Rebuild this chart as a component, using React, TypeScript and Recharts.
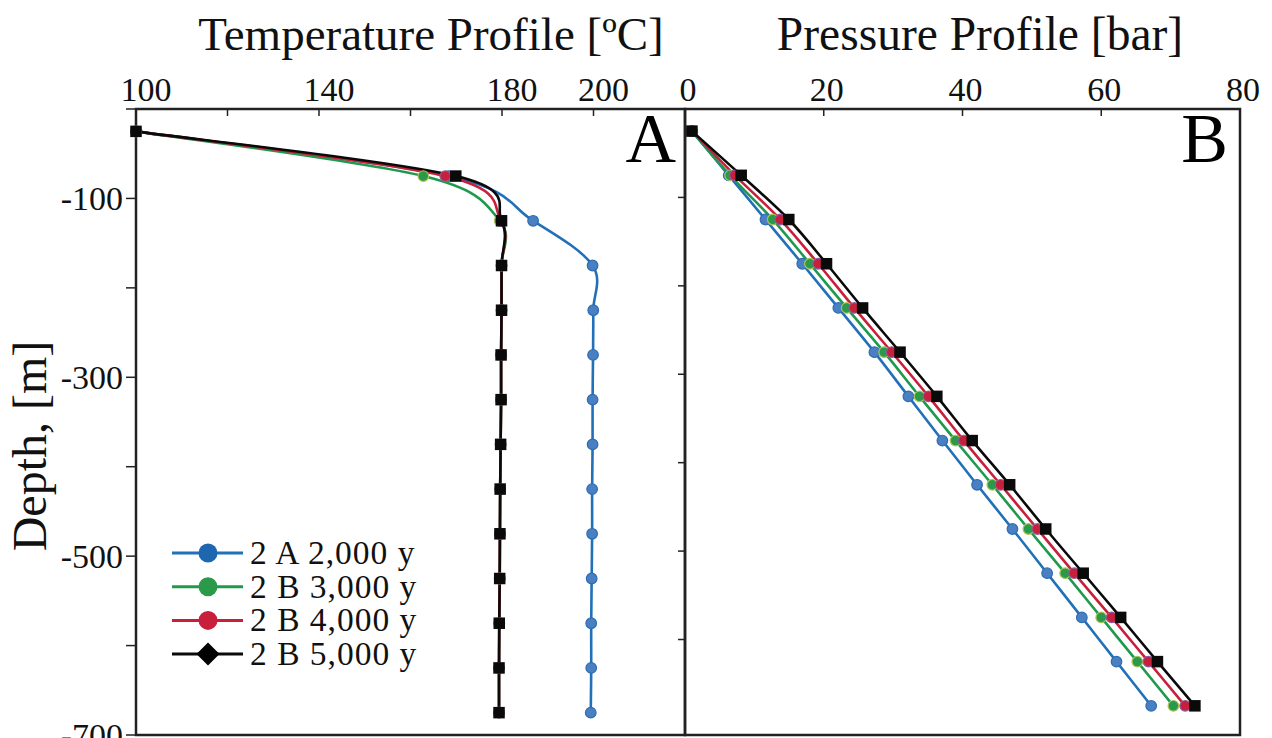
import React from 'react';
import { LineChart, Line, XAxis, YAxis, ReferenceArea, Legend } from 'recharts';

// ---------- data ----------
const depths = [-25, -75, -125, -175, -225, -275, -325, -375, -425, -475, -525, -575, -625, -675];

const temp2A2000 = [100, 168.3, 186.8, 199.8, 199.95, 199.9, 199.8, 199.8, 199.7, 199.7, 199.6, 199.5, 199.5, 199.4];
const temp2B3000 = [100, 162.8, 179.5, 179.9, 179.9, 179.8, 179.8, 179.7, 179.6, 179.55, 179.5, 179.4, 179.35, 179.35];
const temp2B4000 = [100, 167.6, 179.8, 179.9, 179.9, 179.8, 179.8, 179.7, 179.6, 179.55, 179.5, 179.4, 179.35, 179.35];
const temp2B5000 = [100, 169.9, 179.9, 179.9, 179.9, 179.8, 179.8, 179.7, 179.6, 179.55, 179.5, 179.4, 179.35, 179.35];

const pres2A2000 = [1.0, 6.3, 11.6, 16.9, 22.1, 27.3, 32.2, 37.1, 42.1, 47.2, 52.2, 57.2, 62.2, 67.2];
const pres2B3000 = [1.0, 6.5, 12.65, 18.0, 23.3, 28.7, 33.8, 39.0, 44.3, 49.5, 54.8, 60.0, 65.2, 70.4];
const pres2B4000 = [1.0, 7.2, 13.75, 19.2, 24.4, 29.8, 35.1, 40.2, 45.5, 50.8, 56.1, 61.5, 66.8, 72.1];
const pres2B5000 = [1.0, 8.1, 14.96, 20.4, 25.6, 31.0, 36.3, 41.4, 46.8, 52.0, 57.4, 62.8, 68.1, 73.5];

const seriesNames = ['2 A 2,000 y', '2 B 3,000 y', '2 B 4,000 y', '2 B 5,000 y'];

const tempTicks = [100, 120, 140, 160, 180, 200, 220];
const tempTickLabels = [100, 140, 180, 200];
const presTicks = [0, 20, 40, 60, 80];
const depthTicks = [-700, -600, -500, -400, -300, -200, -100, 0];
const depthTickLabels = [-100, -300, -500, -700];
const depthTicksB = [-600, -500, -400, -300, -200, -100];

const titleA = 'Temperature Profile [ºC]';
const titleB = 'Pressure Profile [bar]';
const yTitle = 'Depth, [m]';

// ---------- styles ----------
const FONT = "'Liberation Serif', 'Times New Roman', serif";
const FRAME = '#222';
const STY = [
  { line: '#2270b8', fill: '#4a7fc1', stroke: '#2c6db4', shape: 'circle' },
  { line: '#1f9a4c', fill: '#2a9a4a', stroke: '#a9c35c', shape: 'circle' },
  { line: '#c81f3b', fill: '#c81f3b', stroke: '#8e5a9e', shape: 'circle' },
  { line: '#0a0a0a', fill: '#0a0a0a', stroke: '#0a0a0a', shape: 'square' },
];

const PLOT_TOP = 109;

const toPts = (xs: number[], ys: number[]) => xs.map((x, i) => ({ x, y: ys[i] }));
const tempSeries = [temp2A2000, temp2B3000, temp2B4000, temp2B5000].map((t) => toPts(t, depths));
const presSeries = [pres2A2000, pres2B3000, pres2B4000, pres2B5000].map((p) => toPts(p, depths));

// Catmull-Rom-like smooth curve (Excel-style smoothing)
const smoothCurve = (context: any) => {
  let pts: [number, number][] = [];
  return {
    areaStart() {},
    areaEnd() {},
    lineStart() {
      pts = [];
    },
    lineEnd() {
      if (!pts.length) return;
      context.moveTo(pts[0][0], pts[0][1]);
      const k = 1 / 6;
      for (let i = 0; i < pts.length - 1; i++) {
        const p0 = pts[i - 1] || pts[i];
        const p1 = pts[i];
        const p2 = pts[i + 1];
        const p3 = pts[i + 2] || p2;
        context.bezierCurveTo(
          p1[0] + (p2[0] - p0[0]) * k,
          p1[1] + (p2[1] - p0[1]) * k,
          p2[0] - (p3[0] - p1[0]) * k,
          p2[1] - (p3[1] - p1[1]) * k,
          p2[0],
          p2[1]
        );
      }
    },
    point(x: number, y: number) {
      pts.push([x, y]);
    },
  };
};

const makeDot = (s: (typeof STY)[number]) => (props: any) => {
  const { cx, cy, index } = props;
  if (cx == null || cy == null) return <g key={index} />;
  if (s.shape === 'square') {
    return <rect key={index} x={cx - 5.75} y={cy - 5.75} width={11.5} height={11.5} fill={s.fill} />;
  }
  return <circle key={index} cx={cx} cy={cy} r={5.3} fill={s.fill} stroke={s.stroke} strokeWidth={1.2} />;
};

const makeTopTick = (labels: number[] | null, dx: number) => (props: any) => {
  const { x, payload } = props;
  const show = labels ? labels.includes(payload.value) : true;
  return (
    <g>
      <line x1={x} x2={x} y1={PLOT_TOP} y2={PLOT_TOP + 7} stroke={FRAME} strokeWidth={1.5} />
      {show && (
        <text x={x + dx} y={PLOT_TOP - 8} textAnchor="middle" fontFamily={FONT} fontSize={34} fill="#111">
          {payload.value}
        </text>
      )}
    </g>
  );
};

const LegendContent = () => (
  <svg width={250} height={150} style={{ overflow: 'visible' }}>
    {seriesNames.map((name, i) => {
      const s = STY[i];
      const cy = 18 + i * 33.7;
      return (
        <g key={name}>
          <line x1={2} x2={73} y1={cy} y2={cy} stroke={s.line} strokeWidth={3} />
          {i === 3 ? (
            <polygon points={`38,${cy - 11.5} 49.5,${cy} 38,${cy + 11.5} 26.5,${cy}`} fill="#000" />
          ) : (
            <circle cx={38} cy={cy} r={9.5} fill={i === 0 ? '#1f66b0' : s.fill} />
          )}
          <text x={80} y={cy + 11} fontFamily={FONT} fontSize={33.5} fill="#111" letterSpacing={1}>
            {name}
          </text>
        </g>
      );
    })}
  </svg>
);

const renderLines = (series: { x: number; y: number }[][]) =>
  series.map((data, i) => (
    <Line
      key={seriesNames[i]}
      data={data}
      dataKey="y"
      name={seriesNames[i]}
      type={smoothCurve as any}
      stroke={STY[i].line}
      strokeWidth={2.6}
      dot={makeDot(STY[i])}
      activeDot={false}
      isAnimationActive={false}
    />
  ));

export default function App() {
  return (
    <div style={{ position: 'absolute', left: 0, top: 0, width: 1272, height: 738, background: '#fff', overflow: 'hidden' }}>
      <div style={{ position: 'absolute', left: 0, top: 0 }}>
        <LineChart width={700} height={738} margin={{ top: 69, right: 15, bottom: 3, left: 76 }}>
          <XAxis
            xAxisId={0}
            type="number"
            dataKey="x"
            orientation="top"
            height={40}
            domain={[100, 220]}
            ticks={tempTicks}
            axisLine={false}
            tickLine={false}
            tick={makeTopTick(tempTickLabels, 10)}
            interval={0}
          />
          <YAxis
            yAxisId={0}
            type="number"
            width={60}
            domain={[-700, 0]}
            ticks={depthTicks}
            axisLine={false}
            tickSize={10}
            tickMargin={3}
            interval={0}
            tickLine={{ stroke: FRAME, strokeWidth: 1.5 }}
            tickFormatter={(v: number) => (depthTickLabels.includes(v) ? String(v) : '')}
            tick={{ fontFamily: FONT, fontSize: 34, fill: '#111' }}
          />
          <ReferenceArea x1={100} x2={220} y1={-700} y2={0} fill="none" stroke={FRAME} strokeWidth={2.5} ifOverflow="visible" />
          {renderLines(tempSeries)}
          <Legend
            layout="horizontal"
            align="center"
            verticalAlign="middle"
            content={LegendContent}
            wrapperStyle={{ position: 'absolute', left: 170, top: 535, width: 260, height: 150 }}
          />
        </LineChart>
      </div>
      <div style={{ position: 'absolute', left: 600, top: 0 }}>
        <LineChart width={672} height={738} margin={{ top: 69, right: 32, bottom: 3, left: 65 }}>
          <XAxis
            xAxisId={0}
            type="number"
            dataKey="x"
            orientation="top"
            height={40}
            domain={[0, 80]}
            ticks={presTicks}
            axisLine={false}
            tickLine={false}
            tick={makeTopTick(null, 3)}
            interval={0}
          />
          <YAxis
            yAxisId={0}
            type="number"
            width={20}
            domain={[-708, 0]}
            ticks={depthTicksB}
            axisLine={false}
            tickSize={7}
            interval={0}
            tickLine={{ stroke: FRAME, strokeWidth: 1.5 }}
            tickFormatter={() => ''}
          />
          <ReferenceArea x1={0} x2={80} y1={-708} y2={0} fill="none" stroke={FRAME} strokeWidth={2.5} ifOverflow="visible" />
          {renderLines(presSeries)}
        </LineChart>
      </div>
      <svg width={1272} height={738} style={{ position: 'absolute', left: 0, top: 0, pointerEvents: 'none' }}>
        <text x={431} y={50} textAnchor="middle" fontFamily={FONT} fontSize={47} fill="#111">
          {titleA}
        </text>
        <text x={980} y={50} textAnchor="middle" fontFamily={FONT} fontSize={47.5} fill="#111">
          {titleB}
        </text>
        <text transform="translate(46,446) rotate(-90)" textAnchor="middle" fontFamily={FONT} fontSize={48} fill="#111">
          {yTitle}
        </text>
        <text x={676} y={162} textAnchor="end" fontFamily={FONT} fontSize={70} fill="#000">
          A
        </text>
        <text x={1228} y={162} textAnchor="end" fontFamily={FONT} fontSize={70} fill="#000">
          B
        </text>
      </svg>
    </div>
  );
}
